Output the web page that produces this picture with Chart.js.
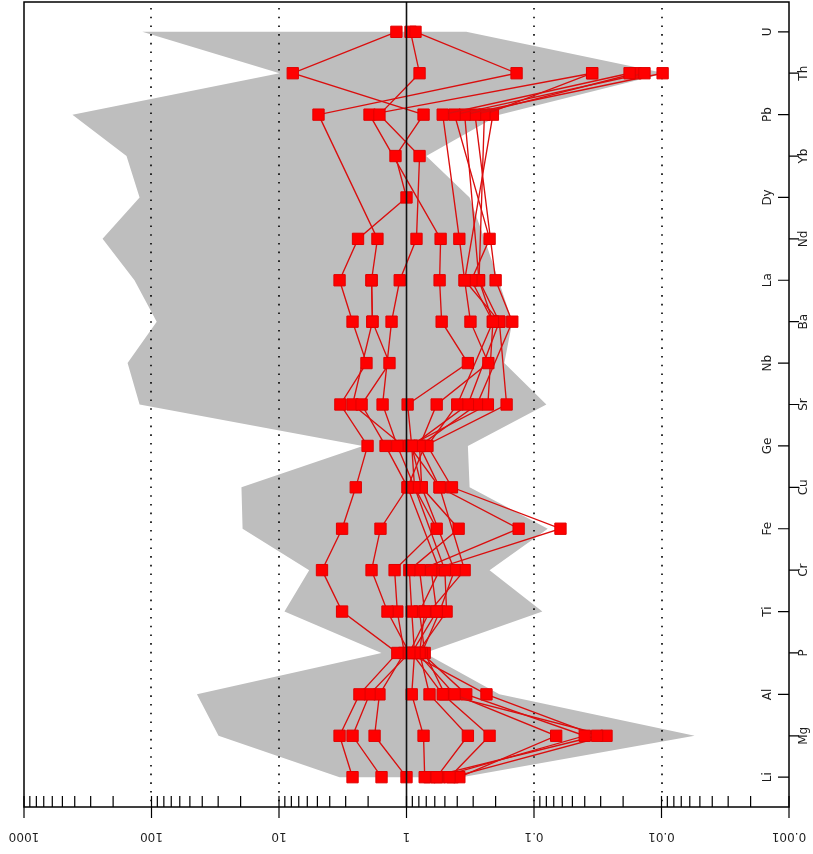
<!DOCTYPE html>
<html>
<head>
<meta charset="utf-8">
<script src="https://cdn.jsdelivr.net/npm/chart.js@4/dist/chart.umd.min.js"></script>
<style>
  html, body { margin: 0; padding: 0; background: #ffffff; }
  canvas { display: block; }
</style>
</head>
<body>
<canvas id="spider" width="813" height="854"></canvas>
<script>
// Elements along the vertical axis, bottom (Li) to top (U)
const categories = ['Li','Mg','Al','P','Ti','Cr','Fe','Cu','Ge','Sr','Nb','Ba','La','Nd','Dy','Yb','Pb','Th','U'];

// Reference envelope (grey band): upper and lower normalised values per element
const envelopeMax = [3.35, 29.8, 44, 1.57, 9.06, 5.8, 19.3, 19.7, 2.2, 124, 154, 91, 136, 242, 124, 157, 417, 9.9, 118];
const envelopeMin = [0.37, 0.0055, 0.187, 0.72, 0.086, 0.223, 0.078, 0.32, 0.33, 0.08, 0.171, 0.148, 0.19, 0.245, 0.32, 0.70, 0.187, 0.0094, 0.34];

// Normalised sample values (null = element not analysed)
const sample01 = [2.65, 3.35, 2.34, 1.18, 3.2, 4.6, 3.2, 2.5, 2.02, 3.3, 2.06, 2.65, 3.35, 2.4, 1.0, 1.22, 0.735, 7.8, 1.2];
const sample02 = [1.57, 2.65, 1.95, 0.95, 1.41, 1.88, 1.6, 0.98, 1.46, 2.25, 1.36, 1.85, 1.88, 1.69, null, null, 4.9, 0.137, 0.85];
const sample03 = [1.0, 1.78, 1.63, 1.04, 1.18, 1.24, 0.58, 0.865, 1.18, 1.54, null, 1.31, 1.13, 0.835, null, 0.79, 1.63, 0.79, 0.93];
const sample04 = [0.72, 0.735, 0.91, 0.865, 0.91, 0.95, 0.39, 0.76, 0.91, 0.98, 0.33, 0.53, 0.55, 0.54, null, null, 1.95, 0.035, null];
const sample05 = [0.58, 0.33, 0.66, 0.79, 0.72, 0.79, 0.132, 0.55, 0.79, 0.58, 0.228, 0.315, 0.35, 0.385, null, null, 0.52, 0.0178, null];
const sample06 = [0.46, 0.223, 0.52, 0.91, 0.58, 0.64, 0.062, 0.44, 0.685, 0.40, null, 0.21, 0.31, 0.223, null, null, 0.42, 0.0136, null];
const sample07 = [0.385, 0.067, 0.42, 0.82, 0.485, 0.50, null, 0.865, 0.91, 0.33, null, 0.187, 0.27, null, null, null, 0.35, 0.0098, null];
const sample08 = [0.55, 0.040, 0.34, 0.76, 0.55, 0.42, null, 0.76, 0.79, 0.28, null, 0.148, 0.20, null, null, null, 0.29, 0.016, null];
const sample09 = [0.66, 0.032, 0.236, 0.95, 0.66, 0.35, null, 0.55, 0.95, 0.23, null, 0.21, 0.27, null, null, null, 0.245, 0.035, null];
const sample10 = [0.435, 0.027, 0.50, 0.72, 0.79, 0.55, null, 0.98, 0.72, 0.164, null, 0.187, 0.35, null, null, null, 0.21, null, null];
const sample11 = [null, null, null, null, null, null, null, null, 1.06, 2.65, null, 1.85, 1.88, null, null, null, null, null, null];

const samples = [sample01, sample02, sample03, sample04, sample05, sample06,
                 sample07, sample08, sample09, sample10, sample11];

// Log axis: labelled decades, dotted reference lines
const tickValues = [1000, 100, 10, 1, 0.1, 0.01, 0.001];
const tickLabels = ['1000', '100', '10', '1', '0.1', '0.01', '0.001'];
const dottedValues = [100, 10, 0.1, 0.01];

// Element position k (1-based) on the linear axis
const toPoints = vals => vals
  .map((v, i) => (v === null ? null : { x: v, y: i + 1 }))
  .filter(p => p !== null);

const datasets = samples.map(vals => ({
  data: toPoints(vals),
  showLine: true,
  borderColor: 'rgb(218,14,14)',
  borderWidth: 1.35,
  pointStyle: 'rect',
  pointRadius: 8,
  pointBackgroundColor: '#ff0000',
  pointBorderColor: '#e00000',
  pointBorderWidth: 1,
  fill: false,
  tension: 0
}));

const FONT = '12px "DejaVu Sans", Verdana, sans-serif';
const TEXT = '#1c1c1c';

const decorations = {
  id: 'decorations',
  beforeDatasetsDraw(chart) {
    const { ctx, chartArea: a, scales: { x, y } } = chart;
    ctx.save();
    // grey envelope
    ctx.beginPath();
    envelopeMax.forEach((v, i) => {
      const px = x.getPixelForValue(v), py = y.getPixelForValue(i + 1);
      if (i === 0) ctx.moveTo(px, py); else ctx.lineTo(px, py);
    });
    for (let i = envelopeMin.length - 1; i >= 0; i--) {
      ctx.lineTo(x.getPixelForValue(envelopeMin[i]), y.getPixelForValue(i + 1));
    }
    ctx.closePath();
    ctx.fillStyle = '#bebebe';
    ctx.fill();

    // dotted decade lines
    ctx.strokeStyle = '#000';
    ctx.lineWidth = 1.6;
    ctx.setLineDash([1.6, 7.1]);
    dottedValues.forEach(v => {
      const px = Math.round(x.getPixelForValue(v));
      ctx.beginPath();
      ctx.moveTo(px, a.top + 6);
      ctx.lineTo(px, a.bottom);
      ctx.stroke();
    });
    ctx.restore();
  },
  afterDatasetsDraw(chart) {
    const { ctx, chartArea: a, scales: { x, y } } = chart;
    ctx.save();
    // solid reference line at 1
    const p1 = x.getPixelForValue(1);
    ctx.strokeStyle = '#111';
    ctx.lineWidth = 1.6;
    ctx.beginPath();
    ctx.moveTo(p1, a.top);
    ctx.lineTo(p1, a.bottom);
    ctx.stroke();

    // frame
    ctx.strokeStyle = '#000';
    ctx.lineWidth = 1.5;
    ctx.strokeRect(a.left, a.top, a.right - a.left, a.bottom - a.top);

    // log axis: inward minor ticks, outward major ticks
    ctx.lineWidth = 1.2;
    ctx.beginPath();
    for (let k = -3; k <= 2; k++) {
      for (let m = 1; m <= 9; m++) {
        const px = x.getPixelForValue(m * Math.pow(10, k));
        ctx.moveTo(px, a.bottom);
        ctx.lineTo(px, a.bottom - 11);
      }
    }
    const p1000 = x.getPixelForValue(1000);
    ctx.moveTo(p1000, a.bottom);
    ctx.lineTo(p1000, a.bottom - 11);
    tickValues.forEach(v => {
      const px = x.getPixelForValue(v);
      ctx.moveTo(px, a.bottom);
      ctx.lineTo(px, a.bottom + 11);
    });
    ctx.stroke();

    ctx.fillStyle = TEXT;
    ctx.font = FONT;
    ctx.textAlign = 'center';
    ctx.textBaseline = 'middle';
    tickValues.forEach((v, i) => {
      ctx.save();
      ctx.translate(x.getPixelForValue(v), a.bottom + 29);
      ctx.rotate(Math.PI);
      ctx.fillText(tickLabels[i], 0, 0);
      ctx.restore();
    });

    // element axis on the right edge, labels alternating sides
    ctx.beginPath();
    categories.forEach((c, i) => {
      const py = y.getPixelForValue(i + 1);
      if (i % 2 === 0) {
        ctx.moveTo(a.right, py);
        ctx.lineTo(a.right - 11, py);
      } else {
        ctx.moveTo(a.right, py);
        ctx.lineTo(a.right + 10, py);
      }
    });
    ctx.stroke();
    categories.forEach((c, i) => {
      const py = y.getPixelForValue(i + 1);
      const px = i % 2 === 0 ? a.right - 21 : a.right + 15;
      ctx.save();
      ctx.translate(px, py);
      ctx.rotate(-Math.PI / 2);
      ctx.fillText(c, 0, 0);
      ctx.restore();
    });
    ctx.restore();
  }
};

new Chart(document.getElementById('spider'), {
  type: 'scatter',
  data: { datasets },
  options: {
    responsive: false,
    animation: false,
    events: [],
    layout: { autoPadding: false, padding: { left: 24, right: 24, top: 2, bottom: 47 } },
    plugins: { legend: { display: false }, tooltip: { enabled: false } },
    scales: {
      x: { type: 'logarithmic', min: 0.001, max: 1000, reverse: true, display: false },
      y: { type: 'linear', min: 0.28, max: 19.72, display: false }
    }
  },
  plugins: [decorations]
});
</script>
</body>
</html>
